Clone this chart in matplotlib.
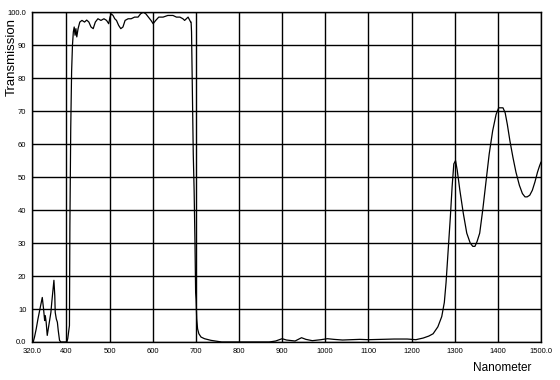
import matplotlib
matplotlib.use('Agg')
import matplotlib.pyplot as plt

# 数据：波长(nm) 与 透过率(%)，每行 10 个点，两表逐行对应
wavelength = [320, 323, 326, 330, 334, 337, 340, 344, 347, 349.5,
              351, 353, 355.5, 358, 361, 364, 366, 369, 371, 373,
              374, 376.5, 379, 381, 384, 387, 392, 396, 399, 401,
              403, 405, 407, 408, 410, 412, 414, 416, 418, 420,
              422, 424, 427, 431, 436, 442, 447, 452, 457, 462,
              467, 473, 480, 487, 493, 498, 501, 504, 508, 512,
              516, 521, 526, 531, 536, 543, 550, 558, 566, 572,
              578, 584, 590, 596, 601, 607, 614, 624, 635, 647,
              655, 663, 670, 674, 678, 682, 686, 688, 689, 690,
              692, 694, 696, 698, 699.5, 700.5, 702, 704, 707, 712,
              720, 735, 760, 800, 840, 870, 885, 900, 910, 930,
              945, 955, 970, 990, 1005, 1020, 1040, 1060, 1080, 1100,
              1130, 1160, 1190, 1210, 1227, 1240, 1250, 1261, 1270, 1276,
              1280, 1285, 1290, 1294, 1298, 1302, 1306, 1312, 1320, 1328,
              1336, 1342, 1347, 1352, 1358, 1365, 1372, 1380, 1388, 1396,
              1402, 1406, 1412, 1417, 1422, 1428, 1435, 1442, 1450, 1457,
              1463, 1468, 1474, 1480, 1486, 1492, 1497, 1500]
transmission = [0, 0, 1.5, 4, 7, 9, 11, 13.5, 10, 6.5,
                8, 6, 2, 4, 6.5, 9, 12, 16, 18.7, 14,
                9, 7, 6, 3.5, 0.5, 0, 0, 0, 0, 0,
                1, 3, 5, 35, 65, 82, 90, 94, 95.5, 93,
                95, 92.5, 95, 97, 97.5, 97, 97.6, 97, 95.5, 95,
                97, 98, 97.5, 98, 97.5, 96.5, 98.5, 99.5, 99, 98,
                97.5, 96, 95, 95.5, 97.5, 98, 98, 98.5, 98.5, 99.5,
                100, 99.5, 98.5, 97.5, 96.5, 97.5, 98.5, 98.5, 99, 99,
                98.5, 98.5, 98, 97.5, 98, 98.5, 97.5, 97, 97, 94,
                75, 57, 46, 30, 15, 13, 7, 4, 2.5, 1.5,
                1, 0.5, 0, 0, 0, 0, 0.3, 1.0, 0.6, 0.3,
                1.3, 0.8, 0.4, 0.7, 1.0, 0.8, 0.6, 0.7, 0.8, 0.7,
                0.8, 0.9, 0.9, 0.7, 1.2, 1.8, 2.5, 4.6, 7.7, 12,
                18, 28, 38, 47, 54, 55, 52, 46, 39, 33,
                30, 29, 29, 30.5, 33, 40, 48, 57, 64, 69,
                71, 71, 71, 69.5, 66, 61, 56, 51.5, 47.5, 45,
                44, 44, 44.5, 46, 48.5, 51.5, 53.5, 54.5]

x_ticks = [320, 400, 500, 600, 700, 800, 900, 1000, 1100, 1200, 1300, 1400, 1500]
x_tick_labels = ['320.0', '400', '500', '600', '700', '800', '900', '1000', '1100',
                 '1200', '1300', '1400', '1500.0']
y_ticks = [0, 10, 20, 30, 40, 50, 60, 70, 80, 90, 100]
y_tick_labels = ['0.0', '10', '20', '30', '40', '50', '60', '70', '80', '90', '100.0']

plt.rcParams['font.family'] = ['Liberation Sans', 'DejaVu Sans']

fig = plt.figure(figsize=(5.6, 3.8), dpi=100)
ax = fig.add_axes([0.057, 0.1, 0.909, 0.868])

ax.plot(wavelength, transmission, color='black', linewidth=0.9)

ax.set_xlim(320, 1500)
ax.set_ylim(0, 100)
ax.set_xticks(x_ticks)
ax.set_xticklabels(x_tick_labels)
ax.set_yticks(y_ticks)
ax.set_yticklabels(y_tick_labels)
ax.tick_params(length=0, labelsize=5.5, pad=4)
ax.grid(True, color='black', linewidth=1.0)
for s in ax.spines.values():
    s.set_color('black')
    s.set_linewidth(1.0)

# 坐标轴标题位置手动设定，避免被裁切
ax.set_ylabel('Transmission', fontsize=9.5, ha='right')
ax.yaxis.set_label_coords(-0.028, 0.982)
ax.set_xlabel('Nanometer', fontsize=8.5, ha='right')
ax.xaxis.set_label_coords(0.982, -0.062)

fig.savefig('out.png', dpi=100)
